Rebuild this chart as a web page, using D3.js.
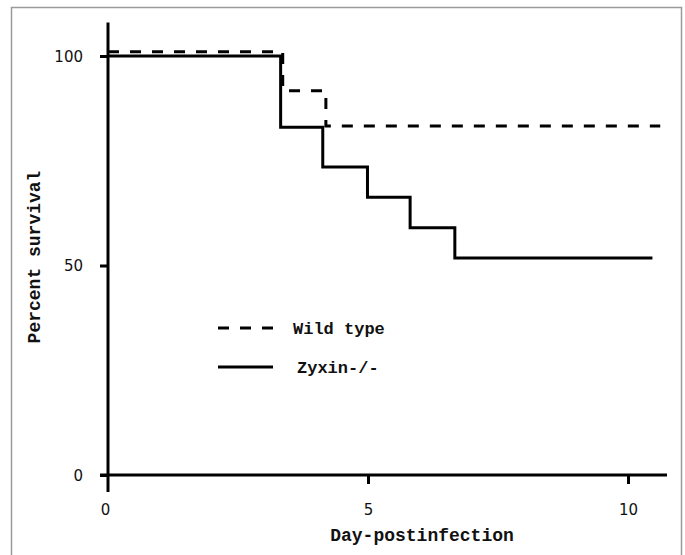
<!DOCTYPE html>
<html>
<head>
<meta charset="utf-8">
<script src="https://cdn.jsdelivr.net/npm/d3@7"></script>
<style>
  body { margin: 0; background: #fff; }
  .tick-label { font-family: "DejaVu Sans", sans-serif; font-size: 15px; fill: #111; }
  .mono { font-family: "Liberation Mono", monospace; font-weight: bold; font-size: 18px; fill: #111; }
</style>
</head>
<body>
<div id="chart"></div>
<script>
// Kaplan-Meier steps
const zyxinDays = [0, 3.32, 4.13, 4.99, 5.81, 6.67, 10.47];
const zyxinSurvival = [100, 83, 73.5, 66.3, 59, 51.8, 51.8];
const wtDays = [0, 3.36, 4.19, 10.62];
const wtSurvival = [101, 91.7, 83.3, 83.3];

const xTicks = [0, 5, 10];
const yTicks = [0, 50, 100];
const legendItems = [
  { name: "Wild type", dash: "11,11" },
  { name: "Zyxin-/-", dash: null }
];

const W = 685, H = 555;
const svg = d3.select("#chart").append("svg")
  .attr("width", W)
  .attr("height", H);

// grey frame around the figure
svg.append("rect")
  .attr("x", 11.5).attr("y", 7.5)
  .attr("width", 670).attr("height", 560)
  .attr("fill", "none")
  .attr("stroke", "#9a9a9a")
  .attr("stroke-width", 1.5);

const x = d3.scaleLinear().domain([0, 10]).range([108, 628]);
const y = d3.scaleLinear().domain([0, 100]).range([475, 56]);

// axis lines
svg.append("line")
  .attr("x1", x(0)).attr("x2", x(0))
  .attr("y1", y(108)).attr("y2", y(0) + 17)
  .attr("stroke", "#000").attr("stroke-width", 3);
svg.append("line")
  .attr("x1", x(0) - 8).attr("x2", x(10.75))
  .attr("y1", y(0)).attr("y2", y(0))
  .attr("stroke", "#000").attr("stroke-width", 3);

// y axis ticks + labels
const yAxis = svg.append("g")
  .attr("transform", `translate(${x(0)},0)`)
  .call(d3.axisLeft(y).tickValues(yTicks).tickSize(8).tickPadding(17).tickFormat(d3.format("d")));
yAxis.select(".domain").remove();
yAxis.selectAll(".tick line").attr("stroke", "#000").attr("stroke-width", 3);
yAxis.selectAll(".tick text").attr("class", "tick-label").attr("dy", "0.36em")
  .style("font-size", null).style("font-family", null);
yAxis.attr("font-size", null).attr("font-family", null);

// x axis ticks + labels
const xAxis = svg.append("g")
  .attr("transform", `translate(0,${y(0)})`)
  .call(d3.axisBottom(x).tickValues(xTicks).tickSize(9).tickPadding(20).tickFormat(d3.format("d")));
xAxis.select(".domain").remove();
xAxis.selectAll(".tick line").attr("stroke", "#000").attr("stroke-width", 3)
  .attr("opacity", d => d === 0 ? 0 : 1);
xAxis.selectAll(".tick text").attr("class", "tick-label")
  .attr("dx", d => d === 0 ? -3 : 0);
xAxis.attr("font-size", null).attr("font-family", null);

// axis titles
svg.append("text")
  .attr("class", "mono")
  .attr("x", 422).attr("y", 541)
  .attr("text-anchor", "middle")
  .text("Day-postinfection");
svg.append("text")
  .attr("class", "mono")
  .attr("transform", "translate(40,257) rotate(-90)")
  .attr("text-anchor", "middle")
  .text("Percent survival");

// survival curves
const step = d3.line()
  .x(d => x(d[0]))
  .y(d => y(d[1]))
  .curve(d3.curveStepAfter);

svg.append("path")
  .datum(zyxinDays.map((t, i) => [t, zyxinSurvival[i]]))
  .attr("fill", "none")
  .attr("stroke", "#000")
  .attr("stroke-width", 3)
  .attr("d", step);

svg.append("path")
  .datum(wtDays.map((t, i) => [t, wtSurvival[i]]))
  .attr("fill", "none")
  .attr("stroke", "#000")
  .attr("stroke-width", 3)
  .attr("stroke-dasharray", "11,11")
  .attr("d", step);

// legend
const legend = svg.append("g").attr("transform", "translate(218,328)");
legendItems.forEach((d, i) => {
  const g = legend.append("g").attr("transform", `translate(0,${i * 39})`);
  g.append("line")
    .attr("x1", 0).attr("x2", 55)
    .attr("y1", 0).attr("y2", 0)
    .attr("stroke", "#000")
    .attr("stroke-width", 3)
    .attr("stroke-dasharray", d.dash);
  g.append("text")
    .attr("class", "mono")
    .attr("x", 75 + i * 4)
    .attr("y", 6)
    .style("font-size", "17px")
    .text(d.name);
});
</script>
</body>
</html>
